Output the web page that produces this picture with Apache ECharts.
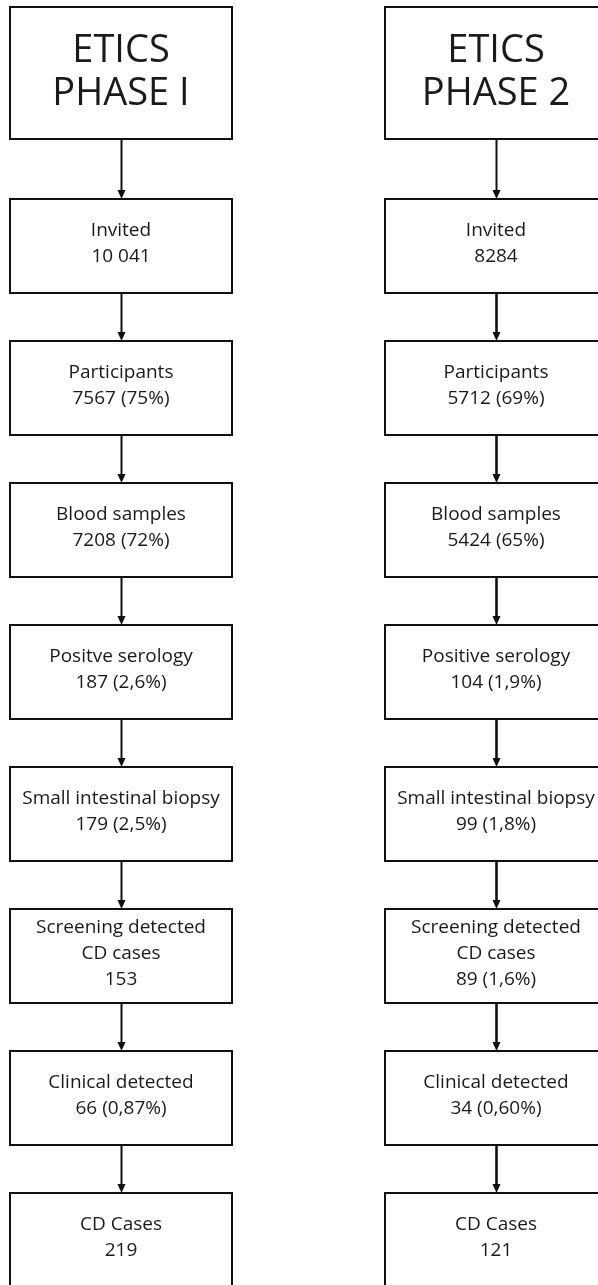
<!DOCTYPE html>
<html>
<head>
<meta charset="utf-8">
<script src="https://cdn.jsdelivr.net/npm/echarts@6/dist/echarts.min.js"></script>
<style>
  html, body { margin: 0; padding: 0; background: #fff; }
  #main { width: 598px; height: 1285px; }
</style>
</head>
<body>
<div id="main"></div>
<script>
// flow steps (same for both phases)
var phases = ['ETICS\nPHASE I', 'ETICS\nPHASE 2'];
var stepNames = ['Invited', 'Participants', 'Blood samples', 'Positve serology',
  'Small intestinal biopsy', 'Screening detected\nCD cases', 'Clinical detected', 'CD Cases'];
var stepNames2 = ['Invited', 'Participants', 'Blood samples', 'Positive serology',
  'Small intestinal biopsy', 'Screening detected\nCD cases', 'Clinical detected', 'CD Cases'];
var phase1Counts = ['10 041', '7567', '7208', '187', '179', '153', '66', '219'];
var phase1Pct = ['', '75%', '72%', '2,6%', '2,5%', '', '0,87%', ''];
var phase2Counts = ['8284', '5712', '5424', '104', '99', '89', '34', '121'];
var phase2Pct = ['', '69%', '65%', '1,9%', '1,8%', '1,6%', '0,60%', ''];

var FONT = '"Open Sans", "Noto Sans", sans-serif';
var TITLE_ROW = -0.218;   // title box sits a bit further up than the regular step spacing

function label(name, count, pct) {
  return name + '\n' + count + (pct ? ' (' + pct + ')' : '');
}

// nodes: [col, row, text, isTitle]
var nodes = [];
var arrows = [];
[[stepNames, phase1Counts, phase1Pct], [stepNames2, phase2Counts, phase2Pct]].forEach(function (p, col) {
  nodes.push([col, TITLE_ROW, phases[col], 1]);
  p[0].forEach(function (n, i) {
    nodes.push([col, i + 1, label(n, p[1][i], p[2][i]), 0]);
  });
  for (var i = 0; i < p[0].length; i++) {
    arrows.push([col, i === 0 ? TITLE_ROW : i, i + 1, i === 0 ? 1 : 0]);
  }
});

var BOX_W = 222, BOX_H = 94, TITLE_H = 132;

var chart = echarts.init(document.getElementById('main'));
chart.setOption({
  animation: false,
  grid: { left: 0, right: 0, top: 0, bottom: 0 },
  xAxis: { type: 'value', min: -0.3227, max: 1.272, show: false },
  yAxis: { type: 'value', min: -0.732, max: 8.317, inverse: true, show: false },
  series: [{
    type: 'custom',
    coordinateSystem: 'cartesian2d',
    data: arrows,
    renderItem: function (params, api) {
      var col = api.value(0);
      var isTitle = api.value(3);
      var a = api.coord([col, api.value(1)]);
      var b = api.coord([col, api.value(2)]);
      var y1 = a[1] + (isTitle ? TITLE_H : BOX_H) / 2;
      var y2 = b[1] - BOX_H / 2;
      var x = Math.round(a[0]) + 0.5;
      var lw = col === 1 && !isTitle ? 2.6 : 2;
      return {
        type: 'group',
        children: [{
          type: 'line',
          shape: { x1: x, y1: y1, x2: x, y2: y2 - 6 },
          style: { stroke: '#111', lineWidth: lw }
        }, {
          type: 'polygon',
          shape: { points: [[x - 4, y2 - 9], [x + 4, y2 - 9], [x, y2]] },
          style: { fill: '#111' }
        }]
      };
    }
  }, {
    type: 'custom',
    coordinateSystem: 'cartesian2d',
    data: nodes,
    renderItem: function (params, api) {
      var c = api.coord([api.value(0), api.value(1)]);
      var isTitle = api.value(3);
      var h = isTitle ? TITLE_H : BOX_H;
      var txt = nodes[params.dataIndex][2];
      return {
        type: 'group',
        children: [{
          type: 'rect',
          shape: { x: Math.round(c[0] - BOX_W / 2), y: Math.round(c[1] - h / 2), width: BOX_W, height: h },
          style: { fill: '#fff', stroke: '#111', lineWidth: 2 }
        }, {
          type: 'text',
          x: c[0],
          y: c[1] + (isTitle ? 0 : -2),
          style: {
            text: txt,
            fill: '#1a1a1a',
            font: (isTitle ? '38px ' : '19px ') + FONT,
            lineHeight: isTitle ? 43 : 26,
            align: 'center',
            verticalAlign: 'middle'
          }
        }]
      };
    }
  }]
});
</script>
</body>
</html>
